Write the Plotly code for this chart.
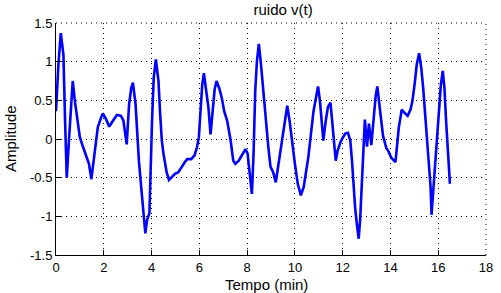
import plotly.graph_objects as go

time_min = [0.00, 0.10, 0.20, 0.31, 0.38, 0.45, 0.55, 0.64, 0.70, 0.79, 0.89, 1.00, 1.14, 1.28, 1.38, 1.48,
            1.62, 1.75, 1.89, 1.96, 2.09, 2.23, 2.37, 2.55, 2.72, 2.82, 2.96, 3.06, 3.15, 3.22, 3.33, 3.40,
            3.47, 3.54, 3.61, 3.67, 3.74, 3.81, 3.91, 4.02, 4.09, 4.18, 4.29, 4.36, 4.43, 4.50, 4.57, 4.63,
            4.73, 4.84, 4.98, 5.12, 5.25, 5.39, 5.49, 5.66, 5.80, 5.90, 5.98, 6.05, 6.12, 6.19, 6.28, 6.38,
            6.47, 6.56, 6.64, 6.72, 6.83, 6.94, 7.04, 7.17, 7.31, 7.42, 7.51, 7.65, 7.79, 7.93, 8.02, 8.10,
            8.20, 8.27, 8.34, 8.41, 8.49, 8.57, 8.68, 8.79, 8.89, 8.98, 9.09, 9.20, 9.30, 9.40, 9.51, 9.60,
            9.68, 9.78, 9.89, 10.00, 10.12, 10.25, 10.37, 10.47, 10.56, 10.67, 10.78, 10.88, 10.97, 11.05,
            11.12, 11.19, 11.29, 11.38, 11.49, 11.56, 11.63, 11.71, 11.79, 11.91, 12.01, 12.11, 12.22, 12.32,
            12.39, 12.45, 12.52, 12.59, 12.67, 12.73, 12.80, 12.86, 12.93, 13.02, 13.10, 13.20, 13.30, 13.38,
            13.45, 13.52, 13.58, 13.69, 13.83, 13.92, 14.03, 14.21, 14.28, 14.35, 14.42, 14.47, 14.58, 14.72,
            14.84, 14.92, 15.02, 15.10, 15.20, 15.29, 15.37, 15.45, 15.53, 15.61, 15.68, 15.72, 15.79, 15.86,
            15.93, 16.02, 16.11, 16.19, 16.26, 16.33, 16.39, 16.46, 16.49]

amplitude = [0.36, 0.96, 1.37, 1.09, 0.23, -0.50, 0.02, 0.53, 0.75, 0.49, 0.23, 0.02, -0.11, -0.24, -0.32, -0.52,
             -0.19, 0.15, 0.28, 0.33, 0.26, 0.16, 0.23, 0.31, 0.30, 0.24, -0.07, 0.45, 0.66, 0.73, 0.45, 0.02,
             -0.28, -0.53, -0.75, -0.96, -1.22, -1.05, -0.96, 0.23, 0.79, 1.03, 0.75, 0.32, -0.02, -0.19, -0.36, -0.43,
             -0.53, -0.49, -0.45, -0.43, -0.36, -0.30, -0.26, -0.26, -0.21, -0.11, 0.02, 0.32, 0.70, 0.85, 0.66, 0.41,
             0.06, 0.41, 0.64, 0.75, 0.66, 0.53, 0.36, 0.23, -0.02, -0.28, -0.32, -0.28, -0.21, -0.13, -0.19, -0.45,
             -0.71, -0.19, 0.62, 1.00, 1.23, 1.00, 0.58, 0.23, -0.11, -0.36, -0.43, -0.56, -0.36, -0.15, 0.11, 0.26,
             0.43, 0.23, -0.06, -0.32, -0.58, -0.73, -0.62, -0.43, -0.24, 0.06, 0.36, 0.53, 0.68, 0.49,
             0.23, -0.02, 0.23, 0.41, 0.47, 0.23, -0.06, -0.28, -0.15, -0.04, 0.02, 0.07, 0.08, -0.02,
             -0.28, -0.62, -0.88, -1.09, -1.29, -1.05, -0.53, -0.11, 0.25, -0.10, 0.20, -0.08, 0.30, 0.55,
             0.68, 0.45, 0.33, 0.04, -0.12, -0.16, -0.24, -0.30, -0.06, 0.15, 0.28, 0.38, 0.34, 0.30,
             0.38, 0.49, 0.73, 0.96, 1.11, 0.92, 0.66, 0.32, -0.06, -0.36, -0.62, -0.98, -0.68, -0.36,
             -0.06, 0.36, 0.70, 0.88, 0.66, 0.23, -0.11, -0.41, -0.58]

x_ticks = [0, 2, 4, 6, 8, 10, 12, 14, 16, 18]
y_ticks = [-1.5, -1, -0.5, 0, 0.5, 1, 1.5]
y_tick_labels = ["-1.5", "-1", "-0.5", "0", "0.5", "1", "1.5"]

tick_font = dict(family="Liberation Sans, Arial, sans-serif", size=13, color="black")
label_font = dict(family="Liberation Sans, Arial, sans-serif", size=15, color="black")

fig = go.Figure()
fig.add_trace(go.Scatter(x=time_min, y=amplitude, mode="lines",
                         line=dict(color="#0000FF", width=2.6), showlegend=False))

grid_dash = "1px,4px"
fig.update_xaxes(range=[0, 18], tickvals=x_ticks, ticks="inside", ticklen=5, tickcolor="black",
                 showline=True, linecolor="black", linewidth=1,
                 showgrid=True, gridcolor="black", gridwidth=1, griddash=grid_dash,
                 zeroline=False, tickfont=tick_font)
fig.update_yaxes(range=[-1.5, 1.5], tickvals=y_ticks, ticktext=y_tick_labels, ticks="inside",
                 ticklen=5, tickcolor="black", showline=True, linecolor="black", linewidth=1,
                 showgrid=True, gridcolor="black", gridwidth=1, griddash=grid_dash,
                 zeroline=False, tickfont=tick_font)

# dotted box on top and right (as in the reference)
fig.add_shape(type="line", xref="paper", yref="paper", x0=0, x1=1, y0=1, y1=1,
              line=dict(color="black", width=1, dash=grid_dash))
fig.add_shape(type="line", xref="paper", yref="paper", x0=1, x1=1, y0=0, y1=1,
              line=dict(color="black", width=1, dash=grid_dash))

# axis titles
fig.add_annotation(text="Tempo (min)", xref="paper", yref="paper", x=0.49, y=0, yshift=-29,
                   xanchor="center", yanchor="middle", showarrow=False, font=label_font)
fig.add_annotation(text="Amplitude", xref="paper", yref="paper", x=0, y=0.5, xshift=-46,
                   xanchor="center", yanchor="middle", textangle=-90, showarrow=False, font=label_font)

fig.update_layout(
    width=501, height=293,
    margin=dict(l=56, r=8, t=23, b=38),
    paper_bgcolor="white", plot_bgcolor="white",
    title=dict(text="ruido v(t)", x=0.565, xanchor="center", y=1 - 10 / 293, yanchor="middle",
               yref="container", font=label_font),
)

fig.write_html("out.html")
